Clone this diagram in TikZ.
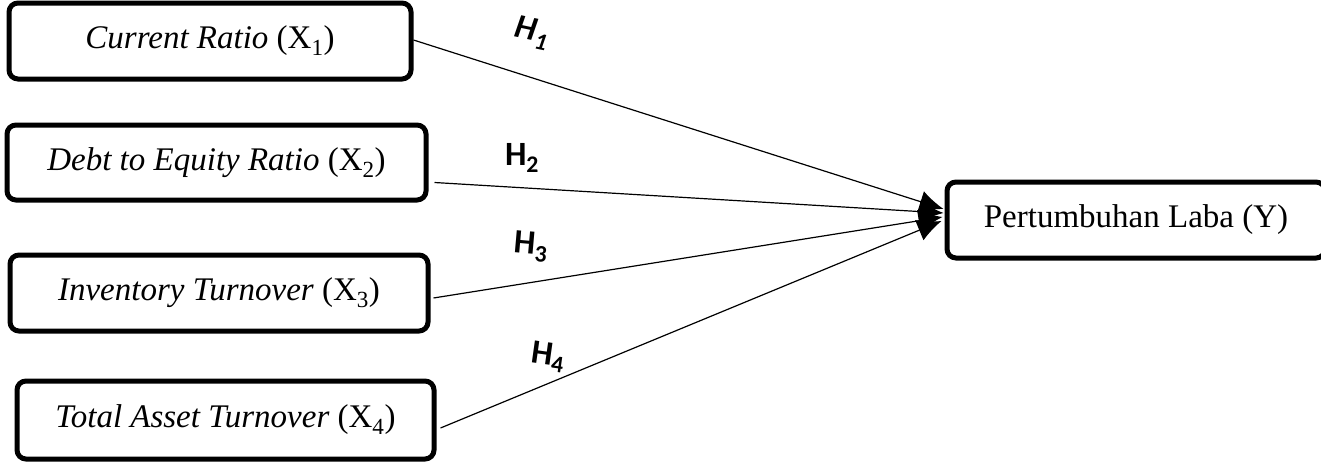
\documentclass[tikz,border=0pt]{standalone}
\usepackage{fontspec}
\setmainfont{Liberation Serif}
\newfontfamily\hfont{Carlito}
\usetikzlibrary{arrows.meta}
\begin{document}
\begin{tikzpicture}[x=1pt,y=-1pt,
  varbox/.style={draw, line width=5pt, rounded corners=9pt, inner sep=0pt,
    font=\fontsize{33}{38}\selectfont, fill=white},
  conn/.style={line width=1.2pt, -{Latex[length=24pt,width=22pt]}},
  hlab/.style={font=\hfont\bfseries\fontsize{34}{36}\selectfont, inner sep=0pt}]
\useasboundingbox (0,0) rectangle (1321,463);
\node[varbox, minimum width=402pt, minimum height=76pt] (x1) at (210,41) {\textit{Current Ratio} (X\textsubscript{1})};
\node[varbox, minimum width=419pt, minimum height=75pt] (x2) at (216.5,162.5) {\textit{Debt to Equity Ratio} (X\textsubscript{2})};
\node[varbox, minimum width=418pt, minimum height=76pt] (x3) at (219,293) {\textit{Inventory Turnover} (X\textsubscript{3})};
\node[varbox, minimum width=417pt, minimum height=78pt] (x4) at (225.5,420) {\textit{Total Asset Turnover} (X\textsubscript{4})};
\node[varbox, minimum width=378pt, minimum height=76pt] (y) at (1136,220) {Pertumbuhan Laba (Y)};
\draw[conn] ([shift={(0,-1)}]x1.east) -- ([shift={(-1,-11)}]y.west);
\draw[conn] ([shift={(6,20)}]x2.east) -- ([shift={(-1,-7)}]y.west);
\draw[conn] ([shift={(3,5)}]x3.east) -- ([shift={(-2,-3)}]y.west);
\draw[conn] ([shift={(4,8)}]x4.east) -- ([shift={(-3,1)}]y.west);
\node[hlab, rotate=-12] (h1) at (532,33) {\itshape H\textsubscript{1}};
\node[hlab] (h2) at (522,158) {H\textsubscript{2}};
\node[hlab, rotate=-5] (h3) at (531,247) {H\textsubscript{3}};
\node[hlab, rotate=-8] (h4) at (548,357) {H\textsubscript{4}};
\end{tikzpicture}
\end{document}
